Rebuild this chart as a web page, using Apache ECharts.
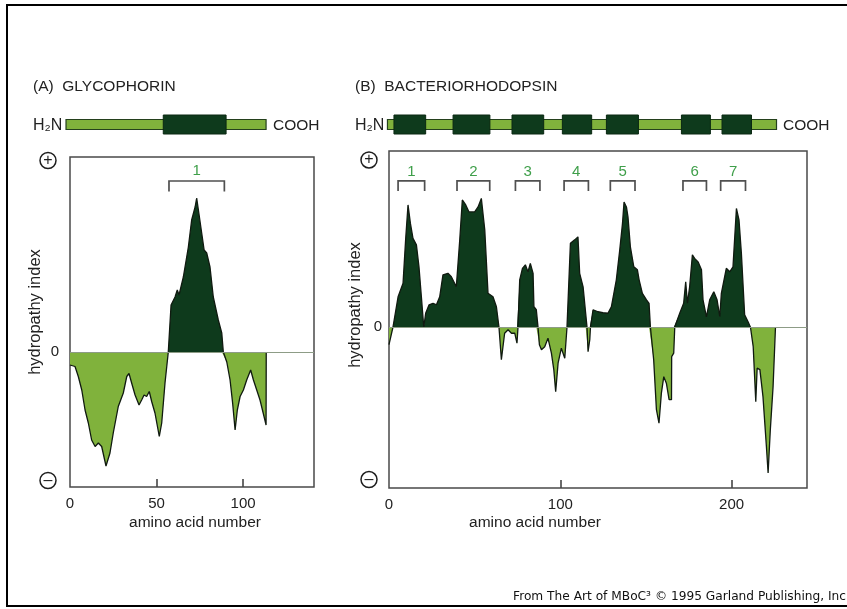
<!DOCTYPE html>
<html><head><meta charset="utf-8">
<script src="https://cdn.jsdelivr.net/npm/echarts@6/dist/echarts.min.js"></script>
<style>html,body{margin:0;padding:0;background:#fff}#c{width:847px;height:609px}</style>
</head><body><div id="c"></div>
<script>
// ---------- DATA ----------
// (A) Glycophorin hydropathy profile
const glyAA = [0, 2.9, 4.8, 6.8, 8.7, 10.6, 12.5, 14.5, 16.4, 18.3, 20.8, 23.1, 25.0, 27.9, 30.8, 32.8, 34.1, 35.7, 37.6, 39.9, 41.4, 42.8, 44.3, 45.8, 47.2, 49.1, 51.6, 53.0, 54.9, 56.8, 57.8, 58.4, 60.7, 62.0, 63.0, 65.5, 68.4, 70.3, 72.3, 73.2, 74.2, 76.1, 77.5, 79.0, 80.9, 82.8, 85.7, 87.7, 88.6, 90.6, 92.5, 94.0, 95.4, 96.7, 98.3, 100.2, 102.1, 104.4, 106.0, 107.9, 109.8, 111.7, 113.3, 113.4];
const glyHyd = [-0.26, -0.29, -0.49, -0.76, -1.16, -1.42, -1.76, -1.89, -1.82, -1.89, -2.28, -2.02, -1.62, -1.09, -0.82, -0.49, -0.43, -0.63, -0.86, -1.06, -0.96, -0.86, -0.89, -0.79, -0.99, -1.22, -1.69, -1.42, -0.62, 0, 0, 0.94, 1.10, 1.24, 1.14, 1.50, 2.10, 2.64, 2.90, 3.08, 2.84, 2.38, 2.04, 1.98, 1.70, 1.10, 0.64, 0.38, 0, -0.2, -0.56, -1.03, -1.56, -1.16, -0.89, -0.76, -0.56, -0.36, -0.56, -0.76, -0.96, -1.23, -1.46, 0];
// (B) Bacteriorhodopsin hydropathy profile
const bacAA = [0, 2.3, 5.3, 8.2, 9.7, 11.1, 12.5, 14.0, 16.0, 17.5,
  18.9, 20.3, 21.4, 23.4, 25.7, 27.7, 29.6, 31.5, 34.4, 36.4,
  39.3, 41.3, 42.8, 44.8, 46.7, 50.0, 52.0, 53.9, 55.9, 57.8,
  60.7, 62.7, 64.2, 65.6, 67.5, 69.5, 71.5, 73.4, 74.7, 75.3,
  76.3, 77.9, 79.6, 81.1, 82.5, 84.1, 84.6, 86.0, 87.0, 87.8,
  89.0, 90.9, 92.8, 94.8, 96.2, 97.3, 98.7, 100.6, 102.6, 103.9,
  104.5, 105.9, 108.4, 110.3, 111.3, 113.3, 114.8, 115.6, 116.2, 117.2,
  117.6, 119.1, 122.0, 124.9, 127.8, 129.8, 132.7, 134.7, 136.3, 137.2,
  138.6, 139.5, 140.9, 142.9, 145.0, 146.0, 147.9, 150.3, 151.8, 152.6,
  154.5, 156.1, 157.6, 159.0, 160.4, 161.9, 163.5, 164.9, 165.0, 166.2,
  166.8, 169.7, 172.0, 173.2, 174.2, 175.5, 177.1, 178.4, 180.4, 182.4,
  183.3, 185.3, 187.2, 189.6, 191.5, 193.1, 194.0, 196.9, 198.9, 200.8,
  202.8, 204.3, 205.7, 207.6, 209.6, 211.0, 212.6, 214.1, 214.9, 216.5,
  218.3, 220.3, 221.3, 221.8, 222.6, 224.2, 225.6];
const bacHyd = [-0.35, 0, 0.61, 0.88, 1.75, 2.45, 2.08, 1.78, 1.65, 1.21,
  0.61, 0, 0.28, 0.45, 0.48, 0.45, 0.61, 1.05, 1.08, 1.01,
  0.81, 1.75, 2.55, 2.45, 2.31, 2.31, 2.41, 2.58, 1.95, 0.68,
  0.61, 0.41, 0, -0.65, -0.12, -0.05, -0.12, -0.12, -0.32, 0,
  0.95, 1.18, 1.25, 1.11, 1.28, 1.08, 0.41, 0.35, 0, -0.35,
  -0.45, -0.39, -0.22, -0.52, -0.85, -1.29, -0.72, -0.42, -0.62, 0,
  0, 1.68, 1.75, 1.81, 1.08, 0.81, 0.28, 0, -0.49, -0.25,
  0, 0.35, 0.31, 0.29, 0.28, 0.41, 0.95, 1.55, 2.08, 2.51,
  2.41, 2.21, 1.61, 1.21, 1.15, 0.95, 0.68, 0.55, 0.48, 0,
  -0.65, -1.65, -1.92, -1.32, -0.99, -1.12, -1.45, -1.45, -0.59, -0.52,
  0, 0.28, 0.48, 0.91, 0.48, 0.81, 1.45, 1.38, 1.31, 1.15,
  0.55, 0.21, 0.55, 0.71, 0.55, 0.21, 0.68, 1.18, 1.11, 1.21,
  2.38, 2.15, 1.48, 0.25, 0.11, 0, -0.39, -1.49, -0.82, -0.85,
  -1.39, -2.39, -2.92, -2.92, -2.05, -1.19, 0];
// transmembrane brackets [start, end] and labels
const glyBrackets = [[57.2, 89.2]];
const glyBracketLabels = ['1'];
const bacBrackets = [[5.3, 20.8], [39.7, 58.8], [73.8, 88.1], [102.2, 116.4], [129.2, 143.6], [171.6, 185.3], [193.6, 208.1]];
const bacBracketLabels = ['1', '2', '3', '4', '5', '6', '7'];
// schematic chains: backbone [start,end], helices [[start,end],...]
const glyBackbone = [-2.3, 113.3];
const glyHelices = [[53.9, 90.2]];
const bacBackbone = [-0.9, 226.2];
const bacHelices = [[2.9, 21.4], [37.4, 58.9], [71.8, 90.3], [101.2, 118.3], [126.9, 145.6], [170.7, 187.6], [194.4, 211.6]];
// axis ticks / labels
const glyXTicks = [50, 100];
const glyXLabels = [0, 50, 100];
const bacXTicks = [100, 200];
const bacXLabels = [0, 100, 200];
const glyYLabels = [-2.57, 0, 3.83];
const bacYLabels = [-3.05, 0, 3.35];
const titles = ['(A)  GLYCOPHORIN', '(B)  BACTERIORHODOPSIN'];
const yName = 'hydropathy index';
const xName = 'amino acid number';
const footer = 'From The Art of MBoC\u00B3 \u00A9 1995 Garland Publishing, Inc';

// ---------- STYLE ----------
const DARK = '#0e3a1c';
const LIGHT = '#80b23c';
const SANS = '"Liberation Sans", Arial, "DejaVu Sans", sans-serif';
const TXT = '#222222';

const chart = echarts.init(document.getElementById('c'), null, {renderer: 'canvas'});

const posPart = (xs, ys) => xs.map((x, i) => [x, Math.max(ys[i], 0)]);
const negPart = (xs, ys) => xs.map((x, i) => [x, Math.min(ys[i], 0)]);
const pairs = (xs, ys) => xs.map((x, i) => [x, ys[i]]);

function yLabelFmt(v) {
  if (v === 0) return '0';
  return v > 0 ? '{c|+}{s|}' : '{c|\u2013}{s|}';
}
function yRich(spacer) {
  return {
    c: {width: 16, height: 16, lineHeight: 17, align: 'center', verticalAlign: 'middle',
        borderColor: '#1e1e1e', borderWidth: 1.5, borderRadius: 10, fontSize: 16, color: '#1e1e1e', fontFamily: SANS},
    s: {width: spacer}
  };
}

function bracketSeries(idx, data, labels, topY, legY, lblY) {
  return {
    type: 'custom', coordinateSystem: 'cartesian2d', xAxisIndex: idx, yAxisIndex: idx, z: 5, silent: true,
    data: data,
    renderItem: function (params, api) {
      const s = api.value(0), e = api.value(1);
      const p1 = api.coord([s, legY]), p2 = api.coord([s, topY]);
      const p3 = api.coord([e, topY]), p4 = api.coord([e, legY]);
      const l = api.coord([(s + e) / 2, lblY]);
      return {type: 'group', children: [
        {type: 'polyline', shape: {points: [p1, p2, p3, p4]}, style: {stroke: '#505050', lineWidth: 1.7, fill: null}},
        {type: 'text', x: l[0], y: l[1], style: {text: labels[params.dataIndex], fill: '#3f9f4a',
          font: '15px ' + SANS, align: 'center', verticalAlign: 'middle'}}
      ]};
    }
  };
}

function chainSeries(idx, backbone, helices) {
  const data = [[backbone[0], backbone[1], 0]].concat(helices.map(h => [h[0], h[1], 1]));
  return {
    type: 'custom', coordinateSystem: 'cartesian2d', xAxisIndex: idx, yAxisIndex: idx, silent: true,
    data: data,
    renderItem: function (params, api) {
      const x1 = api.coord([api.value(0), 0])[0];
      const x2 = api.coord([api.value(1), 0])[0];
      const yb = api.coord([0, 0])[1];
      const yt = api.coord([0, 1])[1];
      if (api.value(2) === 0) {
        return {type: 'rect', shape: {x: x1, y: yt + 4.5, width: x2 - x1, height: 10},
          style: {fill: LIGHT, stroke: '#24401c', lineWidth: 1.2}};
      }
      return {type: 'rect', shape: {x: x1, y: yt, width: x2 - x1, height: yb - yt},
        style: {fill: DARK, stroke: '#0a2812', lineWidth: 1}};
    }
  };
}

function areaSeries(idx, data, color) {
  return {
    type: 'line', xAxisIndex: idx, yAxisIndex: idx, data: data,
    showSymbol: false, symbol: 'none', silent: true, z: 2,
    lineStyle: {width: 0, color: color},
    areaStyle: {opacity: 1, color: color}
  };
}
function outlineSeries(idx, data) {
  return {
    type: 'line', xAxisIndex: idx, yAxisIndex: idx, data: data,
    showSymbol: false, symbol: 'none', silent: true, z: 3,
    lineStyle: {color: '#101a10', width: 1.3},
    markLine: {silent: true, symbol: ['none', 'none'], label: {show: false},
      lineStyle: {color: '#8d9c86', width: 1.2, type: 'solid'},
      data: [{yAxis: 0}]}
  };
}

function mainX(idx, max, ticks, labels) {
  return {
    type: 'value', gridIndex: idx, min: 0, max: max, position: 'bottom',
    axisLine: {show: false, onZero: false},
    splitLine: {show: false},
    axisTick: {show: true, inside: true, length: 8, customValues: ticks, lineStyle: {color: '#454545', width: 1.6}},
    axisLabel: {show: true, customValues: labels, margin: 9, fontSize: 15, color: TXT, fontFamily: SANS}
  };
}
function mainY(idx, min, max, labels, margin, spacer) {
  return {
    type: 'value', gridIndex: idx, min: min, max: max,
    axisLine: {show: false}, axisTick: {show: false}, splitLine: {show: false},
    axisLabel: {show: true, customValues: labels, margin: margin, formatter: yLabelFmt,
      fontSize: 15, color: TXT, fontFamily: SANS, rich: yRich(spacer)}
  };
}

const option = {
  animation: false,
  backgroundColor: '#ffffff',
  grid: [
    {left: 70, top: 157, width: 244, height: 330, show: true, borderColor: '#4a4a4a', borderWidth: 1.5, backgroundColor: 'transparent'},
    {left: 389, top: 151, width: 418, height: 337, show: true, borderColor: '#4a4a4a', borderWidth: 1.5, backgroundColor: 'transparent'},
    {left: 70, top: 115, width: 244, height: 19},
    {left: 389, top: 115, width: 418, height: 19}
  ],
  xAxis: [
    mainX(0, 141, glyXTicks, glyXLabels),
    mainX(1, 244, bacXTicks, bacXLabels),
    {type: 'value', gridIndex: 2, min: 0, max: 141, show: false},
    {type: 'value', gridIndex: 3, min: 0, max: 244, show: false}
  ],
  yAxis: [
    mainY(0, -2.7, 3.9, glyYLabels, 11, 3),
    mainY(1, -3.22, 3.53, bacYLabels, 7, 5),
    {type: 'value', gridIndex: 2, min: 0, max: 1, show: false},
    {type: 'value', gridIndex: 3, min: 0, max: 1, show: false}
  ],
  series: [
    areaSeries(0, posPart(glyAA, glyHyd), DARK),
    areaSeries(0, negPart(glyAA, glyHyd), LIGHT),
    outlineSeries(0, pairs(glyAA, glyHyd)),
    areaSeries(1, posPart(bacAA, bacHyd), DARK),
    areaSeries(1, negPart(bacAA, bacHyd), LIGHT),
    outlineSeries(1, pairs(bacAA, bacHyd)),
    bracketSeries(0, glyBrackets, glyBracketLabels, 3.42, 3.21, 3.62),
    bracketSeries(1, bacBrackets, bacBracketLabels, 2.93, 2.73, 3.12),
    chainSeries(2, glyBackbone, glyHelices),
    chainSeries(3, bacBackbone, bacHelices)
  ],
  graphic: [
    {type: 'polyline', silent: true, shape: {points: [[847, 5], [7, 5], [7, 606], [847, 606]]},
      style: {stroke: '#000', lineWidth: 2, fill: null}},
    {type: 'text', x: 33, y: 87, style: {text: titles[0], font: '15.5px ' + SANS, fill: TXT, verticalAlign: 'middle'}},
    {type: 'text', x: 355, y: 87, style: {text: titles[1], font: '15.5px ' + SANS, fill: TXT, verticalAlign: 'middle'}},
    {type: 'text', x: 33, y: 126, style: {text: 'H\u2082N', font: '16px ' + SANS, fill: TXT, verticalAlign: 'middle'}},
    {type: 'text', x: 273, y: 126, style: {text: 'COOH', font: '15.5px ' + SANS, fill: TXT, verticalAlign: 'middle'}},
    {type: 'text', x: 355, y: 126, style: {text: 'H\u2082N', font: '16px ' + SANS, fill: TXT, verticalAlign: 'middle'}},
    {type: 'text', x: 783, y: 126, style: {text: 'COOH', font: '15.5px ' + SANS, fill: TXT, verticalAlign: 'middle'}},
    {type: 'text', x: 35, y: 312, rotation: Math.PI / 2, style: {text: yName, font: '16.5px ' + SANS, fill: TXT, align: 'center', verticalAlign: 'middle'}},
    {type: 'text', x: 355, y: 305, rotation: Math.PI / 2, style: {text: yName, font: '16.5px ' + SANS, fill: TXT, align: 'center', verticalAlign: 'middle'}},
    {type: 'text', x: 195, y: 523, style: {text: xName, font: '15.5px ' + SANS, fill: TXT, align: 'center', verticalAlign: 'middle'}},
    {type: 'text', x: 535, y: 523, style: {text: xName, font: '15.5px ' + SANS, fill: TXT, align: 'center', verticalAlign: 'middle'}},
    {type: 'text', x: 846, y: 597, style: {text: footer, font: '12.2px "DejaVu Sans", sans-serif', fill: '#111', align: 'right', verticalAlign: 'middle'}}
  ]
};
chart.setOption(option);
</script>
</body></html>
